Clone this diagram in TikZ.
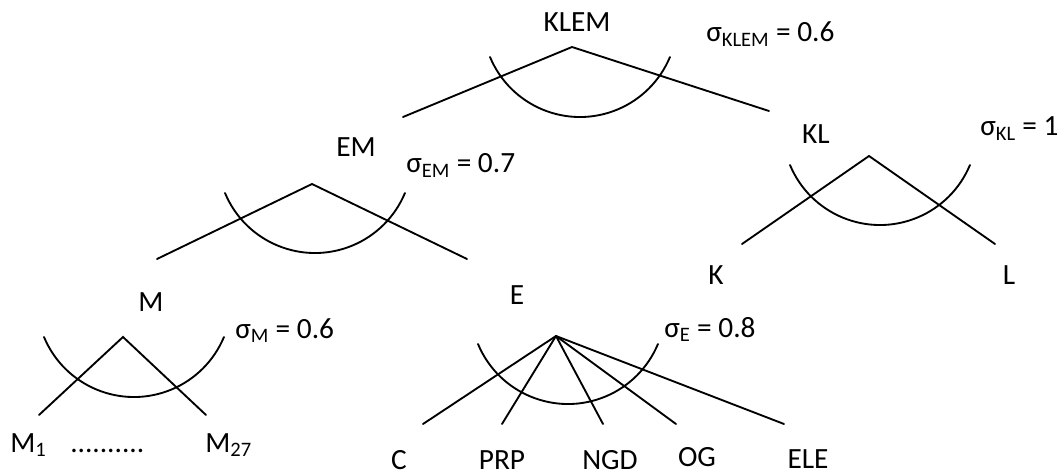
\documentclass[tikz,border=0pt]{standalone}
\usepackage{fontspec}
\setmainfont{Carlito}
\usetikzlibrary{calc}

\tikzset{
    lbl/.style={inner sep=0pt, font=\fontsize{22}{26}\selectfont},
    branch/.style={line width=1.4pt, line cap=round},
}

\begin{document}
\begin{tikzpicture}[x=0.75pt, y=-0.75pt]
    \useasboundingbox (0,0) rectangle (1063,474);

    % Coordinates
    \coordinate (klemtop) at (572,47);
    \coordinate (klemleft) at (403,117);
    \coordinate (klemright) at (769,111);
    \coordinate (emtop) at (312,184);
    \coordinate (emleft) at (157,259);
    \coordinate (emright) at (467,259);
    \coordinate (kltop) at (869,156);
    \coordinate (klleft) at (742,244);
    \coordinate (klright) at (995,244);
    \coordinate (mtop) at (123,337);
    \coordinate (mleft) at (39,415);
    \coordinate (mright) at (206,415);
    \coordinate (etop) at (556,336);
    \coordinate (ec) at (423,424);
    \coordinate (eprp) at (502,424);
    \coordinate (engd) at (603,424);
    \coordinate (eog) at (676,424);
    \coordinate (eele) at (784,424);

    % Text
    \node[lbl] (klem) at (577,22) {KLEM};
    \node[lbl] (em) at (356,147) {EM};
    \node[lbl] (kl) at (816,134) {KL};
    \node[lbl] (k) at (716,275) {K};
    \node[lbl] (l) at (1009,275) {L};
    \node[lbl] (m) at (151,302) {M};
    \node[lbl] (e) at (517,295) {E};
    \node[lbl] (c) at (399,460) {C};
    \node[lbl] (prp) at (502,460) {PRP};
    \node[lbl] (ngd) at (610,460) {NGD};
    \node[lbl] (og) at (697,457) {OG};
    \node[lbl] (ele) at (808,459) {ELE};
    \node[lbl, anchor=base west] (mone) at (10,452) {M\textsubscript{1}};
    \node[lbl, anchor=base west] (dots) at (70,452) {..........};
    \node[lbl, anchor=base west] (mlast) at (205,452) {M\textsubscript{27}};

    % Elasticities
    \node[lbl, anchor=base west] (sklem) at (706,42) {σ\textsubscript{KLEM} = 0.6};
    \node[lbl, anchor=base west] (sem) at (406,173) {σ\textsubscript{EM} = 0.7};
    \node[lbl, anchor=base west] (skl) at (980,136) {σ\textsubscript{KL} = 1};
    \node[lbl, anchor=base west] (sm) at (235,338) {σ\textsubscript{M} = 0.6};
    \node[lbl, anchor=base west] (se) at (664,337) {σ\textsubscript{E} = 0.8};

    % Lines
    \draw[branch] (klemleft) -- (klemtop) -- (klemright);
    \draw[branch] (emleft) -- (emtop) -- (emright);
    \draw[branch] (klleft) -- (kltop) -- (klright);
    \draw[branch] (mleft) -- (mtop) -- (mright);
    \foreach \leaf in {ec, eprp, engd, eog, eele}
        \draw[branch] (etop) -- (\leaf);

    % Arcs
    \draw[branch] (490,57) arc[start angle=202.6, end angle=337.4, radius=73.1pt];
    \draw[branch] (225,193) arc[start angle=202.6, end angle=337.4, radius=73.1pt];
    \draw[branch] (790,165) arc[start angle=202.6, end angle=337.4, radius=73.1pt];
    \draw[branch] (44,337) arc[start angle=202.6, end angle=337.4, radius=73.1pt];
    \draw[branch] (478,344) arc[start angle=202.6, end angle=337.4, radius=73.1pt];
\end{tikzpicture}
\end{document}
